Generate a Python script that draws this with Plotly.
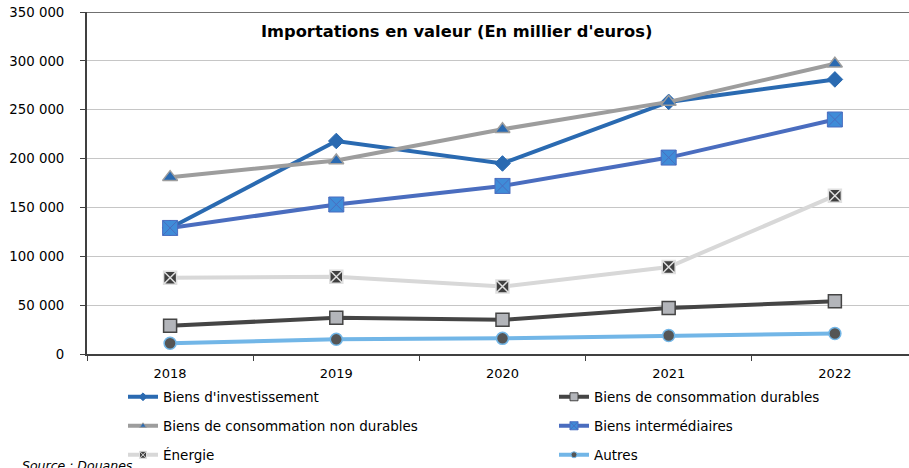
import plotly.graph_objects as go

years = ["2018", "2019", "2020", "2021", "2022"]
invest = [129000, 218000, 195000, 258000, 281000]
conso_durables = [29000, 37000, 35000, 47000, 54000]
conso_non_durables = [181000, 198000, 230000, 258000, 297000]
intermediaires = [129000, 153000, 172000, 201000, 240000]
energie = [78000, 79000, 69000, 89000, 162000]
autres = [11000, 15000, 16000, 19000, 21000]

y_ticks = [0, 50000, 100000, 150000, 200000, 250000, 300000, 350000]
y_labels = ["0", "50 000", "100 000", "150 000", "200 000", "250 000", "300 000", "350 000"]

W, H = 909, 468
OFF = 0  # page body margin removed below
ML, MR, MT, MB = 87, 0, 12, 114
PW, PH = W - ML - MR, H - MT - MB
FONT = "DejaVu Sans"


def px_x(px):
    return (px - OFF - ML) / PW


def px_y(py):
    return (H - MB - (py - OFF)) / PH


series = [
    ("Biens d'investissement", invest, "#2A6AB1",
     dict(symbol="diamond", size=12, color="#2A6AB1", line=dict(color="#2A6AB1", width=1)),
     dict(symbol="diamond", size=6, color="#2A6AB1", line=dict(color="#2A6AB1", width=1))),
    ("Biens de consommation durables", conso_durables, "#454545",
     dict(symbol="square", size=13, color="#B3B5BA", line=dict(color="#454545", width=1.5)),
     dict(symbol="square", size=8, color="#B3B5BA", line=dict(color="#454545", width=1))),
    ("Biens de consommation non durables", conso_non_durables, "#9D9D9D",
     dict(symbol="triangle-up", size=13, color="#2A6AB1", line=dict(color="#9D9D9D", width=1.5)),
     dict(symbol="triangle-up", size=6, color="#2A6AB1", line=dict(color="#9D9D9D", width=1))),
    ("Biens intermédiaires", intermediaires, "#4A6DBF",
     dict(symbol="square-x", size=15, color="#3F8CD8", line=dict(color="#4A6DBF", width=1)),
     dict(symbol="square-x", size=8, color="#3F8CD8", line=dict(color="#4A6DBF", width=1))),
    ("Énergie", energie, "#D8D8D8",
     dict(symbol="square-x", size=13, color="#3F3F3F", line=dict(color="#E0E0E0", width=1.5)),
     dict(symbol="square-x", size=7, color="#3F3F3F", line=dict(color="#E0E0E0", width=1))),
    ("Autres", autres, "#72B6E7",
     dict(symbol="circle", size=12, color="#555555", line=dict(color="#72B6E7", width=1.5)),
     dict(symbol="circle", size=6, color="#555555", line=dict(color="#72B6E7", width=1))),
]

# legend slot positions (page pixels)
legend_pos = [(123, 397), (554, 397), (123, 426), (554, 426), (123, 455), (554, 455)]

fig = go.Figure()
layout_legends = {}
for i, (name, vals, lc, mk, lmk) in enumerate(series):
    lname = "legend" if i == 0 else f"legend{i+1}"
    fig.add_trace(go.Scatter(
        x=years, y=vals, name=name, mode="lines+markers",
        line=dict(color=lc, width=4), marker=mk, showlegend=False,
    ))
    # legend entry (small marker, as in the source chart)
    fig.add_trace(go.Scatter(
        x=[None], y=[None], name=name, mode="lines+markers",
        line=dict(color=lc, width=4), marker=lmk, legend=lname, showlegend=True,
    ))
    px, py = legend_pos[i]
    layout_legends[lname] = dict(
        xref="container", yref="container",
        x=(px - OFF) / W, y=1 - (py - OFF) / H, xanchor="left", yanchor="middle",
        bgcolor="rgba(0,0,0,0)", font=dict(family=FONT, size=13.5, color="#000000"),
    )

fig.update_layout(
    width=W, height=H,
    margin=dict(l=ML, r=MR, t=MT, b=MB, autoexpand=False),
    paper_bgcolor="white", plot_bgcolor="white",
    font=dict(family=FONT, size=12, color="#000000"),
    showlegend=True,
    **layout_legends,
)

fig.update_xaxes(
    type="category", range=[-0.5, 4.446],
    showgrid=False, showline=True, linecolor="#404040", linewidth=1.5,
    ticks="outside", ticklen=5, tickcolor="#404040", tickson="boundaries",
    tickfont=dict(family=FONT, size=13, color="#000000"),
    ticklabelstandoff=7, tickangle=0, ticklabeloverflow="allow",
    zeroline=False,
)
fig.update_yaxes(
    range=[0, 350000], tickvals=y_ticks, ticktext=y_labels,
    showgrid=True, gridcolor="#C6C6C6", gridwidth=1,
    showline=True, linecolor="#404040", linewidth=2,
    ticks="outside", ticklen=5, tickcolor="#404040",
    ticklabelstandoff=13, ticklabeloverflow="allow",
    tickfont=dict(family=FONT, size=13.3, color="#000000"),
    zeroline=False,
)

# top border line at the max of the value axis
fig.add_shape(type="line", xref="paper", yref="y", x0=0, x1=1, y0=350000, y1=350000,
              line=dict(color="#707070", width=2), layer="above")

fig.add_annotation(
    text="<b>Importations en valeur (En millier d'euros)</b>",
    xref="paper", yref="paper", x=px_x(456), y=px_y(31),
    xanchor="center", yanchor="middle", showarrow=False,
    font=dict(family=FONT, size=16.3, color="#000000"),
)
fig.add_annotation(
    text="<i>Source : Douanes</i>",
    xref="paper", yref="paper", x=px_x(20), y=px_y(456),
    xanchor="left", yanchor="top", showarrow=False,
    font=dict(family=FONT, size=12.5, color="#000000"),
)

fig.write_html(
    "out.html",
    config={"displayModeBar": False},
    post_script="document.body.style.margin='0';document.body.style.overflow='hidden';",
)
